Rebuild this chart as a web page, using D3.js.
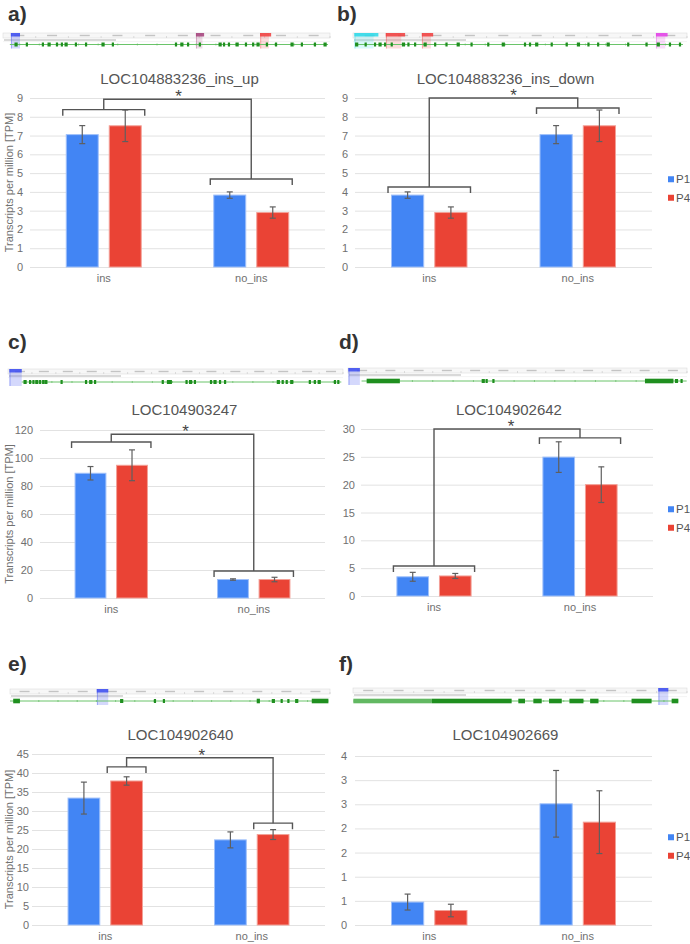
<!DOCTYPE html>
<html><head><meta charset="utf-8">
<script src="https://cdn.jsdelivr.net/npm/d3@7"></script>
<style>
body{margin:0;background:#fff}
svg{display:block}
text{font-family:"Liberation Sans",Arial,sans-serif}
</style>
</head><body>
<svg id="chart" width="690" height="944"></svg>
<script>
// ---------------- DATA ----------------
const panelLetters = ["a)", "b)", "c)", "d)", "e)", "f)"];
const titles = ["LOC104883236_ins_up", "LOC104883236_ins_down", "LOC104903247", "LOC104902642", "LOC104902640", "LOC104902669"];
const categories = ["ins", "no_ins"];
const seriesNames = ["P1", "P4"];
const p1Values = [[7.05, 3.83], [3.83, 7.05], [89.1, 13.2], [3.45, 24.95], [33.4, 22.4], [0.475, 2.51]];
const p4Values = [[7.52, 2.90], [2.90, 7.52], [94.8, 13.2], [3.60, 20.0], [37.9, 23.8], [0.30, 2.13]];
const p1Errors = [[0.48, 0.17], [0.17, 0.48], [4.8, 0.5], [0.8, 2.75], [4.2, 2.1], [0.165, 0.69]];
const p4Errors = [[0.84, 0.30], [0.30, 0.84], [11.0, 1.6], [0.45, 3.2], [1.1, 1.3], [0.13, 0.65]];
const yMax = [9, 9, 120, 30, 45, 3.5];
const yTicks = [
  [0, 1, 2, 3, 4, 5, 6, 7, 8, 9],
  [0, 1, 2, 3, 4, 5, 6, 7, 8, 9],
  [0, 20, 40, 60, 80, 100, 120],
  [0, 5, 10, 15, 20, 25, 30],
  [0, 5, 10, 15, 20, 25, 30, 35, 40, 45],
  [0, 0.5, 1, 1.5, 2, 2.5, 3, 3.5]
];
const yTickLabels = [
  ["0", "1", "2", "3", "4", "5", "6", "7", "8", "9"],
  ["0", "1", "2", "3", "4", "5", "6", "7", "8", "9"],
  ["0", "20", "40", "60", "80", "100", "120"],
  ["0", "5", "10", "15", "20", "25", "30"],
  ["0", "5", "10", "15", "20", "25", "30", "35", "40", "45"],
  ["0", "1", "1", "2", "2", "3", "3", "4"]
];
const yAxisTitle = "Transcripts per million [TPM]";
// significance brackets (data units); null = none
const bracketSeries = [["P1", "P4"], ["P1", "P4"], ["P1", "P4"], ["P1", "P4"], ["P4"], null];
const bracketInsLevel = [8.38, 4.26, 111.4, 5.4, 41.6, null];
const bracketNoInsLevel = [4.69, 8.47, 19.3, 28.4, 26.8, null];
const bracketTopLevel = [8.93, 9.0, 117.0, 30.0, 44.0, null];
const sigLabel = "*";

// genome browser strips (positions on a 0-100 scale of the strip)
const trackExons = [
  [4, 7.3, 12.2, 14.1, 16.5, 18, 19.3, 22.3, 25.4, 30.6, 33.6, 52.9, 54.7, 56.6, 60.2, 66.4, 67.6, 69.1, 71.6, 74.3, 76.5, 78, 80.7, 83.5, 88.4, 91.4, 95.4, 98.5],
  [1.1, 3.8, 6.6, 8.1, 9.6, 11.6, 15.1, 16.6, 18.6, 21.6, 24.6, 28, 31.5, 35.5, 40.5, 45, 51.5, 53, 55, 59.5, 64, 67.5, 70.5, 73.4, 76.4, 82.4, 87.9, 91.4, 94.9, 97.9],
  [5.1, 6.6, 7.6, 8.6, 9.6, 10.5, 11.3, 16, 23.3, 24.7, 26, 46.2, 47.9, 48.6, 53.3, 54.5, 55.8, 60.6, 61.8, 63.3, 64.8, 80.7, 82, 83.2, 84.7, 90.1, 91.6, 92.9, 97.6, 98.6],
  [39.9, 40.9, 42.9, 96.9, 98.4],
  [34.9, 45.3, 48.1, 82.3, 84.9, 87, 89.6],
  []
];
const trackBlocks = [
  [], [], [],
  [[5.5, 15.3], [87.6, 96]],
  [[1, 3.1], [77.1, 78.1], [94.3, 99.5]],
  [[23.6, 47.5], [49.5, 51.5], [54, 56.5], [58.7, 62.5], [64.8, 69], [71, 73.5], [83.4, 89.4], [95.4, 97.4]]
];
const trackLightBlocks = [[], [], [], [], [], [[0.1, 23.6]]];
const trackLine = [[2.1, 99.4], [0.6, 98.8], [4.1, 99.5], [4, 99.9], [0, 99.5], [0.1, 97.4]];
// highlight marks: [start, end, color]
const trackMarks = [
  [[2.4, 5.2, "#3b4cf0"], [59, 61.5, "#a3407a"], [78.6, 82, "#f03c3c"]],
  [[0.4, 7.6, "#29d8e8"], [9.8, 15.6, "#f03c3c"], [20.6, 24, "#f03c3c"], [90.7, 94.2, "#e23ce6"]],
  [[0.4, 4.1, "#3b4cf0"]],
  [[0.1, 3.5, "#3b4cf0"]],
  [[27.1, 30.7, "#3b4cf0"]],
  [[91.4, 94.4, "#3b4cf0"]]
];
const trackRulerCount = [10, 10, 14, 12, 11, 11];

// ---------------- LAYOUT ----------------
const layout = [
  {left: 30, right: 325, top: 98, bot: 267, lx: 8, ly: 21, titleY: 84, pad: 7, tx0: 3, tx1: 330, ty: 33, tl: 44.5, yTitle: true, legend: false, star: 1},
  {left: 355, right: 652, top: 98, bot: 267, lx: 337, ly: 21, titleY: 84, pad: 7, tx0: 353, tx1: 687, ty: 33, tl: 44.5, yTitle: false, legend: true, star: 10},
  {left: 40, right: 325, top: 430, bot: 598, lx: 8, ly: 349, titleY: 415, pad: 7, tx0: 8, tx1: 343, ty: 369, tl: 382, yTitle: true, legend: false, star: 3},
  {left: 361, right: 653, top: 429, bot: 596, lx: 339, ly: 349, titleY: 415, pad: 6, tx0: 348, tx1: 687, ty: 368, tl: 381, yTitle: false, legend: true, star: 4},
  {left: 32, right: 325, top: 754, bot: 925, lx: 8, ly: 671, titleY: 740, pad: 3, tx0: 10, tx1: 330, ty: 689, tl: 701, yTitle: true, legend: false, star: 2},
  {left: 355, right: 652, top: 756, bot: 925, lx: 339, ly: 671, titleY: 740, pad: 8, tx0: 353, tx1: 687, ty: 688, tl: 701, yTitle: false, legend: true, star: 0}
];

const colors = {P1: "#4285F4", P4: "#EA4335"};
const strokes = {P1: "#9fc0fa", P4: "#f3a097"};
const svg = d3.select("#chart");

function drawTrack(g, L, i) {
  const tx = d3.scaleLinear().domain([0, 100]).range([L.tx0, L.tx1]);
  const t = g.append("g");
  // ruler strip
  t.append("rect").attr("x", L.tx0).attr("y", L.ty).attr("width", L.tx1 - L.tx0).attr("height", 5)
    .attr("fill", "#f7f7f7").attr("stroke", "#dcdcdc").attr("stroke-width", 0.6);
  const n = trackRulerCount[i];
  d3.range(n).forEach(k => {
    const p = (k + 0.5) * 100 / n;
    t.append("rect").attr("x", tx(p) - 5).attr("y", L.ty + 1.8).attr("width", 10).attr("height", 1.4).attr("fill", "#c4c4c4");
    t.append("line").attr("x1", tx((k + 1) * 100 / n)).attr("x2", tx((k + 1) * 100 / n))
      .attr("y1", L.ty + 3).attr("y2", L.ty + 5).attr("stroke", "#c8c8c8").attr("stroke-width", 0.6);
  });
  // annotation caption row
  t.append("rect").attr("x", L.tx0 + 1).attr("y", L.ty + 6.3).attr("width", 112).attr("height", 1.4).attr("fill", "#c9c9c9");
  t.append("line").attr("x1", L.tx0).attr("x2", L.tx1).attr("y1", L.ty + 8.6).attr("y2", L.ty + 8.6).attr("stroke", "#ececec").attr("stroke-width", 0.6);
  // highlight marks
  trackMarks[i].forEach(m => {
    const x0 = tx(m[0]), x1 = tx(m[1]);
    const body = i === 0 && m[0] < 10 || (i >= 2 && m[2] === "#3b4cf0");
    t.append("rect").attr("x", x0).attr("y", L.ty).attr("width", body ? x1 - x0 : Math.max(2, (x1 - x0) * 0.8)).attr("height", L.tl - L.ty + 4)
      .attr("fill", m[2]).attr("opacity", body ? 0.22 : 0.18);
    t.append("line").attr("x1", x0 + 0.7).attr("x2", x0 + 0.7).attr("y1", L.ty).attr("y2", L.tl + 4)
      .attr("stroke", m[2]).attr("stroke-width", 0.6).attr("opacity", 0.6);
    t.append("rect").attr("x", x0).attr("y", L.ty).attr("width", x1 - x0).attr("height", 3.5).attr("fill", m[2]).attr("opacity", 0.85);
  });
  // gene line
  t.append("line").attr("x1", tx(trackLine[i][0])).attr("x2", tx(trackLine[i][1])).attr("y1", L.tl).attr("y2", L.tl)
    .attr("stroke", "#6ac46a").attr("stroke-width", 1);
  // small marks along line
  d3.range(trackLine[i][0] + 3, trackLine[i][1], 6).forEach(p => {
    t.append("line").attr("x1", tx(p)).attr("x2", tx(p)).attr("y1", L.tl - 1).attr("y2", L.tl + 1).attr("stroke", "#59b559").attr("stroke-width", 0.6);
  });
  trackLightBlocks[i].forEach(b => {
    t.append("rect").attr("x", tx(b[0])).attr("y", L.tl - 2.3).attr("width", tx(b[1]) - tx(b[0])).attr("height", 4.6).attr("fill", "#62b862");
  });
  trackBlocks[i].forEach(b => {
    t.append("rect").attr("x", tx(b[0])).attr("y", L.tl - 2.3).attr("width", tx(b[1]) - tx(b[0])).attr("height", 4.6).attr("fill", "#1f8f1f");
  });
  trackExons[i].forEach((p, k) => {
    const w = k % 3 === 0 ? 3.2 : 2.2;
    t.append("rect").attr("x", tx(p) - w / 2).attr("y", L.tl - 2).attr("width", w).attr("height", 4).attr("fill", "#1f8f1f");
  });
}

layout.forEach((L, i) => {
  const g = svg.append("g");
  g.append("text").attr("x", L.lx).attr("y", L.ly).text(panelLetters[i])
    .attr("font-size", 21).attr("font-weight", "bold").attr("fill", "#333");
  drawTrack(g, L, i);

  const y = d3.scaleLinear().domain([0, yMax[i]]).range([L.bot, L.top]);
  const x0 = d3.scaleBand().domain(categories).range([L.left, L.right]).paddingInner(0.485).paddingOuter(0.2425);
  const x1 = d3.scaleBand().domain(seriesNames).range([0, x0.bandwidth()]).paddingInner(0.233);

  // title
  g.append("text").attr("x", (L.left + L.right) / 2 + 2).attr("y", L.titleY).attr("text-anchor", "middle")
    .attr("font-size", 15).attr("fill", "#555").text(titles[i]);

  // y axis + gridlines
  const ay = d3.axisLeft(y).tickValues(yTicks[i]).tickFormat((d, j) => yTickLabels[i][j])
    .tickSize(-(L.right - L.left)).tickPadding(L.pad);
  const ag = g.append("g").attr("transform", `translate(${L.left},0)`).call(ay);
  ag.select(".domain").remove();
  ag.selectAll(".tick line").attr("stroke", "#e2e2e2").attr("stroke-width", 1);
  ag.selectAll(".tick text").attr("fill", "#707070").attr("font-size", 11)
    .attr("font-family", '"Liberation Sans",Arial,sans-serif');

  // x axis
  const ax = d3.axisBottom(x0).tickSize(0).tickPadding(7);
  const xg = g.append("g").attr("transform", `translate(0,${L.bot})`).call(ax);
  xg.select(".domain").remove();
  xg.selectAll(".tick text").attr("fill", "#707070").attr("font-size", 11)
    .attr("font-family", '"Liberation Sans",Arial,sans-serif');

  if (L.yTitle) {
    g.append("text").attr("transform", `translate(9,${(L.top + L.bot) / 2}) rotate(-90)`)
      .attr("text-anchor", "middle").attr("dominant-baseline", "central")
      .attr("font-size", 11).attr("fill", "#707070").text(yAxisTitle);
  }

  // bars
  const rows = [];
  categories.forEach((c, ci) => {
    rows.push({c, s: "P1", v: p1Values[i][ci], e: p1Errors[i][ci]});
    rows.push({c, s: "P4", v: p4Values[i][ci], e: p4Errors[i][ci]});
  });
  g.selectAll("rect.bar").data(rows).enter().append("rect").attr("class", "bar")
    .attr("x", d => x0(d.c) + x1(d.s) + 0.5).attr("width", x1.bandwidth() - 1)
    .attr("y", d => y(d.v)).attr("height", d => L.bot - y(d.v))
    .attr("fill", d => colors[d.s]).attr("stroke", d => strokes[d.s]).attr("stroke-width", 1);

  // error bars
  const eb = g.selectAll("g.err").data(rows).enter().append("g").attr("class", "err")
    .attr("stroke", "#5f5f5f").attr("stroke-width", 1.2);
  eb.append("line").attr("x1", d => x0(d.c) + x1(d.s) + x1.bandwidth() / 2).attr("x2", d => x0(d.c) + x1(d.s) + x1.bandwidth() / 2)
    .attr("y1", d => y(d.v + d.e)).attr("y2", d => y(d.v - d.e));
  [1, -1].forEach(sg => {
    eb.append("line").attr("x1", d => x0(d.c) + x1(d.s) + x1.bandwidth() / 2 - 3).attr("x2", d => x0(d.c) + x1(d.s) + x1.bandwidth() / 2 + 3)
      .attr("y1", d => y(d.v + sg * d.e)).attr("y2", d => y(d.v + sg * d.e));
  });

  // significance brackets
  if (bracketSeries[i]) {
    const ser = bracketSeries[i];
    const levels = [bracketInsLevel[i], bracketNoInsLevel[i]];
    const centers = categories.map((c, ci) => {
      const xs = x0(c) + x1(ser[0]) - 3;
      const xe = x0(c) + x1(ser[ser.length - 1]) + x1.bandwidth() + 3;
      const yl = y(levels[ci]);
      g.append("path").attr("d", `M${xs},${yl + 6}V${yl}H${xe}V${yl + 6}`)
        .attr("fill", "none").attr("stroke", "#555").attr("stroke-width", 1.4);
      return {x: (xs + xe) / 2, y: yl};
    });
    const yt = y(bracketTopLevel[i]);
    g.append("path").attr("d", `M${centers[0].x},${centers[0].y}V${yt}H${centers[1].x}V${centers[1].y}`)
      .attr("fill", "none").attr("stroke", "#555").attr("stroke-width", 1.4);
    g.append("text").attr("x", (centers[0].x + centers[1].x) / 2 + L.star).attr("y", yt + 3)
      .attr("text-anchor", "middle").attr("font-size", 17).attr("fill", "#444").text(sigLabel);
  }

  // legend
  if (L.legend) {
    const cy = (L.top + L.bot) / 2 + 6;
    seriesNames.forEach((s, k) => {
      const yy = cy + (k - 0.5) * 18.5;
      g.append("rect").attr("x", 668).attr("y", yy - 3).attr("width", 6).attr("height", 6).attr("fill", colors[s]);
      g.append("text").attr("x", 676).attr("y", yy).attr("dominant-baseline", "central")
        .attr("font-size", 11.5).attr("fill", "#555").text(s);
    });
  }
});
</script>
</body></html>
